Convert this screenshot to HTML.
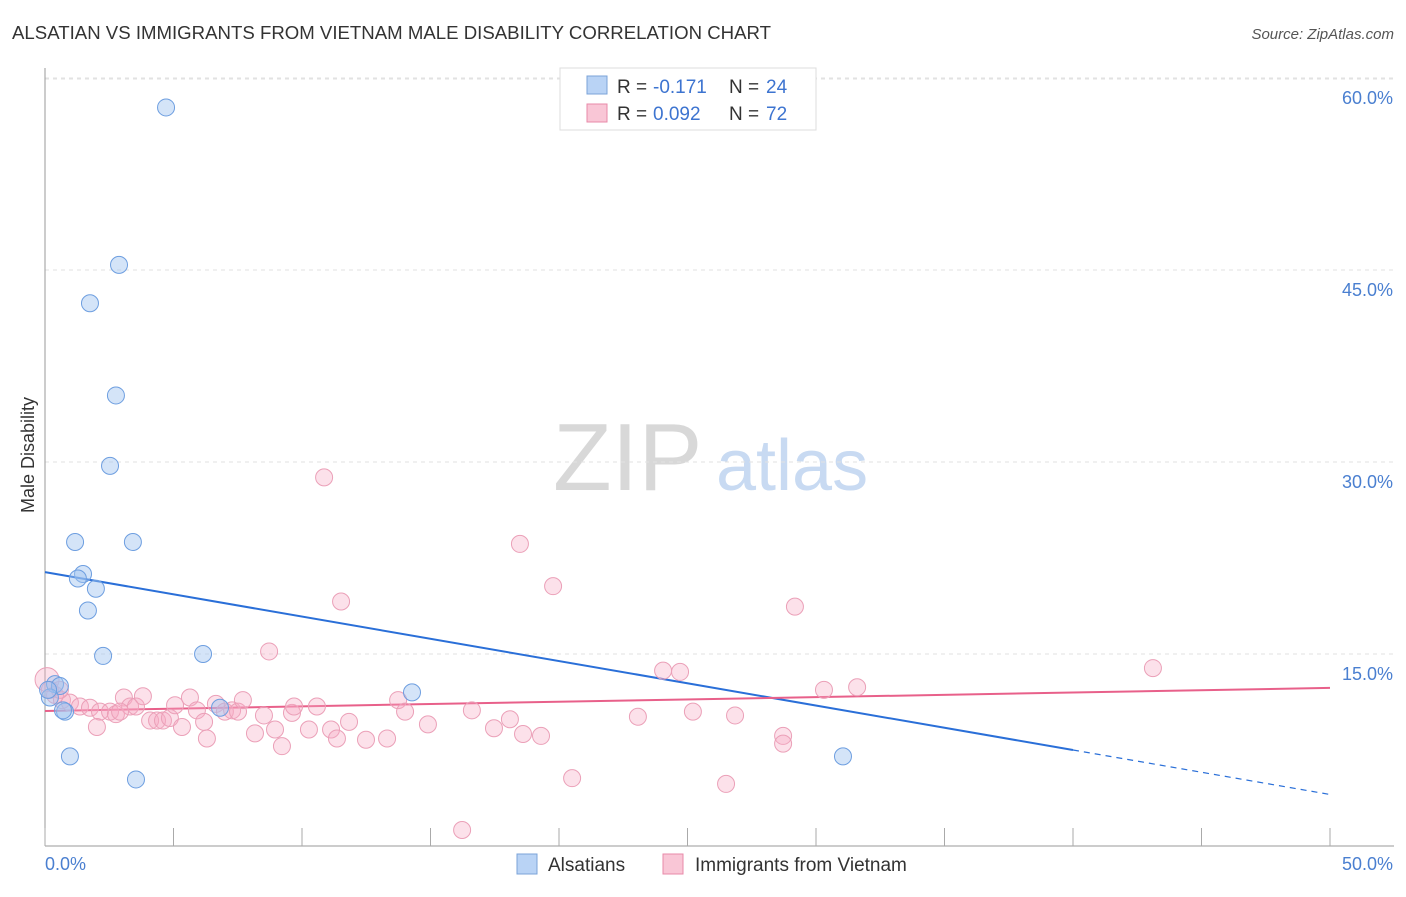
<!DOCTYPE html>
<html><head><meta charset="utf-8"><style>
body{margin:0;background:#fff;width:1406px;height:892px;overflow:hidden;font-family:"Liberation Sans",sans-serif}
svg text{font-family:"Liberation Sans",sans-serif}
</style></head><body>
<svg id="chart" width="1406" height="892" xmlns="http://www.w3.org/2000/svg">
<text x="12" y="39" font-size="18" fill="#333" textLength="759" lengthAdjust="spacingAndGlyphs">ALSATIAN VS IMMIGRANTS FROM VIETNAM MALE DISABILITY CORRELATION CHART</text>
<text x="1394" y="39" font-size="15" fill="#555" font-style="italic" text-anchor="end">Source: ZipAtlas.com</text>
<g>
<text x="553" y="490" font-size="96" fill="#d8d8d8" font-family="Liberation Serif, serif">ZIP</text>
<text x="716" y="490" font-size="72" fill="#c8daf2">atlas</text>
</g>
<g id="grid"></g>
<g id="axes"></g>
<g id="trends"></g>
<g id="pts"></g>
<text transform="translate(34,455) rotate(-90)" font-size="18" fill="#333" text-anchor="middle">Male Disability</text>
<g>
<rect x="560" y="68" width="256" height="62" fill="#fff" stroke="#ddd"/>
<rect x="587" y="76" width="20" height="18" fill="#b9d3f5" stroke="#7ba3d8"/>
<rect x="587" y="104" width="20" height="18" fill="#f9c6d6" stroke="#e88aa8"/>
<text x="617" y="93" font-size="19" fill="#333">R =</text>
<text x="653" y="93" font-size="19" fill="#3d74d0">-0.171</text>
<text x="729" y="93" font-size="19" fill="#333">N =</text>
<text x="766" y="93" font-size="19" fill="#3d74d0">24</text>
<text x="617" y="120" font-size="19" fill="#333">R =</text>
<text x="653" y="120" font-size="19" fill="#3d74d0">0.092</text>
<text x="729" y="120" font-size="19" fill="#333">N =</text>
<text x="766" y="120" font-size="19" fill="#3d74d0">72</text>
</g>
<g>
<rect x="517" y="854" width="20" height="20" fill="#b9d3f5" stroke="#7ba3d8"/>
<text x="548" y="871" font-size="19" fill="#333">Alsatians</text>
<rect x="663" y="854" width="20" height="20" fill="#f9c6d6" stroke="#e88aa8"/>
<text x="695" y="871" font-size="19" fill="#333">Immigrants from Vietnam</text>
</g>
</svg>
<script>
const xTicks=[0,5,10,15,20,25,30,35,40,45,50];
const yTicks=[15,30,45,60];
const yTickLabels=["15.0%","30.0%","45.0%","60.0%"];
const xEndLabels=["0.0%","50.0%"];
const blueX=[4.71,2.88,1.75,2.76,2.53,1.17,3.42,1.48,1.28,1.98,1.67,2.26,6.15,6.81,14.28,0.39,0.58,0.78,0.70,0.97,3.54,31.05,0.19,0.12];
const blueY=[57.7,45.4,42.4,35.2,29.7,23.75,23.75,21.25,20.9,20.1,18.4,14.85,15.0,10.8,12.0,12.65,12.5,10.5,10.6,7.0,5.2,7.0,11.6,12.2];
const pinkX=[10.86,18.48,19.77,11.52,29.18,8.72,24.05,24.71,43.11,30.31,31.60,0.08,0.19,0.39,0.66,0.97,1.36,1.75,2.14,2.02,2.53,2.76,3.07,3.31,3.54,3.81,4.09,4.36,4.59,4.86,5.06,5.33,5.64,5.91,6.19,6.30,6.65,7.00,7.28,7.51,7.70,8.17,8.52,8.95,9.22,9.61,9.69,10.27,10.58,11.13,11.36,11.83,12.49,13.31,13.74,14.01,14.90,16.23,16.61,17.47,18.09,18.60,19.30,20.51,23.07,25.21,26.50,26.85,28.72,28.72,0.58,2.92];
const pinkY=[28.8,23.6,20.3,19.1,18.7,15.2,13.7,13.6,13.9,12.2,12.4,13.0,12.2,11.8,11.4,11.2,10.9,10.8,10.5,9.3,10.5,10.3,11.6,10.9,10.9,11.7,9.8,9.8,9.8,10.0,11.0,9.3,11.6,10.6,9.7,8.4,11.1,10.5,10.6,10.5,11.4,8.8,10.2,9.1,7.8,10.4,10.9,9.1,10.9,9.1,8.4,9.7,8.3,8.4,11.4,10.5,9.5,1.25,10.6,9.2,9.9,8.75,8.6,5.3,10.1,10.5,4.85,10.2,8.6,8.0,12.2,10.5];
const blueTrend=[21.4,-0.3475];
const pinkTrend=[10.55,0.036];
const X=v=>45+v*25.7, Y=v=>846-v*12.8;
const NS="http://www.w3.org/2000/svg";
function mk(p,t,a){const e=document.createElementNS(NS,t);for(const k in a)e.setAttribute(k,a[k]);p.appendChild(e);return e;}
const grid=document.getElementById('grid'),axes=document.getElementById('axes'),tr=document.getElementById('trends'),pts=document.getElementById('pts');
yTicks.forEach((t,i)=>{
 const l=mk(grid,'line',{x1:45,x2:1394,y1:Y(t),y2:Y(t),stroke:'#e2e2e2','stroke-dasharray':'4,4'});
 
 
 const tx=mk(axes,'text',{x:1393,y:Y(t)+26,'font-size':18,fill:'#4a7fd0','text-anchor':'end'});tx.textContent=yTickLabels[i];
 
 
});
const topGrid=mk(grid,'line',{x1:45,x2:1394,y1:79,y2:79,stroke:'#e2e2e2','stroke-dasharray':'4,4'});


const xa=mk(axes,'line',{x1:45,x2:1394,y1:846,y2:846,stroke:'#999'});


const ya=mk(axes,'line',{x1:45,x2:45,y1:68,y2:846,stroke:'#999'});


xTicks.forEach(t=>{const l=mk(axes,'line',{x1:X(t),x2:X(t),y1:828,y2:846,stroke:'#aaa'});
 
 });
const xl0=mk(axes,'text',{x:45,y:870,'font-size':18,fill:'#4a7fd0'});xl0.textContent=xEndLabels[0];


const xl1=mk(axes,'text',{x:1393,y:870,'font-size':18,fill:'#4a7fd0','text-anchor':'end'});xl1.textContent=xEndLabels[1];


const bf=x=>blueTrend[0]+blueTrend[1]*x, pf=x=>pinkTrend[0]+pinkTrend[1]*x;
const b1=mk(tr,'line',{x1:X(0),y1:Y(bf(0)),x2:X(40),y2:Y(bf(40)),stroke:'#2a6fd8','stroke-width':2});


const b2=mk(tr,'line',{x1:X(40),y1:Y(bf(40)),x2:X(50),y2:Y(bf(50)),stroke:'#2a6fd8','stroke-width':1.2,'stroke-dasharray':'6,5'});


const p1=mk(tr,'line',{x1:X(0),y1:Y(pf(0)),x2:X(50),y2:Y(pf(50)),stroke:'#e8608a','stroke-width':2});


pinkX.forEach((x,i)=>{const c=mk(pts,'circle',{cx:X(x),cy:Y(pinkY[i]),r:i==11?12:8.5,fill:'rgba(247,170,195,0.35)',stroke:'#eba0b8','stroke-width':1});
 
 });
blueX.forEach((x,i)=>{const c=mk(pts,'circle',{cx:X(x),cy:Y(blueY[i]),r:8.5,fill:'rgba(160,195,240,0.45)',stroke:'#6d9ee0','stroke-width':1});
 
 });
</script>
</body></html>
